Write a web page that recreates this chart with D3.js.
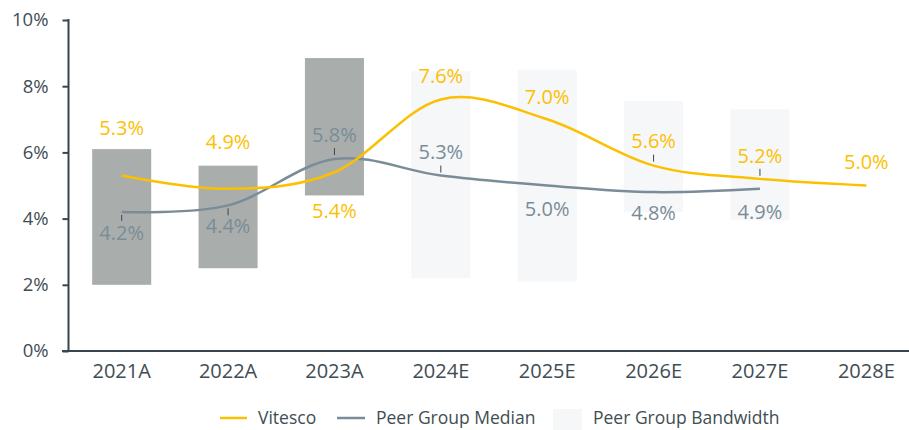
<!DOCTYPE html>
<html lang="en">
<head>
  <meta charset="UTF-8">
  <title>Vitesco vs Peer Group</title>
  <style>
    body { margin: 0; background: #fff; }
    svg { display: block; font-family: "Open Sans", sans-serif; }
  </style>
</head>
<body>
  <svg id="chart"></svg>

  <script src="https://d3js.org/d3.v7.min.js"></script>
  <script>
    // data
    var years = ['2021A', '2022A', '2023A', '2024E', '2025E', '2026E', '2027E', '2028E'];
    var vitesco = [5.3, 4.9, 5.4, 7.6, 7.0, 5.6, 5.2, 5.0];
    var peerMedian = [4.2, 4.4, 5.8, 5.3, 5.0, 4.8, 4.9];
    var bandLow = [2.0, 2.5, 4.7, 2.2, 2.1, 4.2, 3.95];
    var bandHigh = [6.1, 5.6, 8.85, 8.45, 8.5, 7.55, 7.3];
    var yTicks = [0, 2, 4, 6, 8, 10];

    // label placement (px, relative to the point)
    var vitLabelDy = [-48, -47, 39, -23, -22, -25, -23, -24];
    var medLabelDy = [21, 21, -24, -24, 23, 21, 23];
    var vitLeader = [null, null, null, null, null, [-11, -4], [-10, -3], null];
    var medLeader = [[3, 9], [3, 10], [-11, -4], [-10, -3], null, null, null];

    var yellow = '#fcc000';
    var slate = '#7a8c97';
    var axisCol = '#37454c';

    var width = 909, height = 430;
    var svg = d3.select('#chart').attr('width', width).attr('height', height);

    var x = d3.scaleBand()
      .domain(years)
      .range([68.5, 919.5])
      .paddingInner(0.445)
      .paddingOuter(0.2225);
    var cx = function (d) { return x(d) + x.bandwidth() / 2; };

    var y = d3.scaleLinear().domain([0, 10]).range([351, 20]);

    // peer group bandwidth bars
    svg.append('g').selectAll('rect')
      .data(bandLow)
      .enter()
      .append('rect')
      .attr('x', function (d, i) { return x(years[i]); })
      .attr('width', x.bandwidth())
      .attr('y', function (d, i) { return y(bandHigh[i]); })
      .attr('height', function (d, i) { return y(d) - y(bandHigh[i]); })
      .attr('fill', function (d, i) { return years[i].slice(-1) === 'A' ? '#a9aeac' : '#f6f7f9'; });

    // axes
    var axisY = d3.axisLeft(y).tickValues(yTicks).tickSize(6).tickPadding(14)
      .tickFormat(function (d) { return d + '%'; });
    var gy = svg.append('g').attr('transform', 'translate(68.5,0)').call(axisY);
    gy.select('.domain').attr('d', 'M0,19V351').attr('stroke', axisCol).attr('stroke-width', 2);
    gy.selectAll('.tick line').attr('stroke', axisCol).attr('stroke-width', 2);
    gy.selectAll('text').attr('fill', '#3f4d54').style('font-size', '18.5px').style('font-family', '"Open Sans", sans-serif');

    var axisX = d3.axisBottom(x).tickSize(0).tickPadding(13);
    var gx = svg.append('g').attr('transform', 'translate(0,351)').call(axisX);
    gx.select('.domain').attr('d', 'M62,0H909').attr('stroke', axisCol).attr('stroke-width', 2);
    gx.selectAll('text').attr('fill', '#3f4d54').style('font-size', '20px').style('font-family', '"Open Sans", sans-serif');

    // lines
    var line = d3.line()
      .x(function (d, i) { return cx(years[i]); })
      .y(function (d) { return y(d); })
      .curve(d3.curveCatmullRom.alpha(0));

    svg.append('path').datum(peerMedian)
      .attr('d', line).attr('fill', 'none')
      .attr('stroke', slate).attr('stroke-width', 2.5);

    svg.append('path').datum(vitesco)
      .attr('d', line).attr('fill', 'none')
      .attr('stroke', yellow).attr('stroke-width', 2.5);

    // leader lines
    function leaders(vals, offs) {
      svg.append('g').selectAll('line')
        .data(vals)
        .enter()
        .filter(function (d, i) { return offs[i]; })
        .append('line')
        .attr('x1', function (d) { return cx(years[vals.indexOf(d)]); })
        .attr('x2', function (d) { return cx(years[vals.indexOf(d)]); })
        .attr('y1', function (d) { var i = vals.indexOf(d); return y(d) + offs[i][0]; })
        .attr('y2', function (d) { var i = vals.indexOf(d); return y(d) + offs[i][1]; })
        .attr('stroke', '#444').attr('stroke-width', 1);
    }
    leaders(peerMedian, medLeader);
    leaders(vitesco, vitLeader);

    // data labels
    function labels(vals, dys, col) {
      svg.append('g').selectAll('text')
        .data(vals)
        .enter()
        .append('text')
        .attr('x', function (d, i) { return cx(years[i]); })
        .attr('y', function (d, i) { return y(d) + dys[i]; })
        .attr('dy', '0.35em')
        .attr('text-anchor', 'middle')
        .attr('fill', col)
        .style('font-size', '20px')
        .text(function (d) { return d.toFixed(1) + '%'; });
    }
    labels(vitesco, vitLabelDy, yellow);
    labels(peerMedian, medLabelDy, slate);

    // legend
    var lg = svg.append('g').style('font-size', '17.5px').attr('fill', '#3f4d54');
    lg.append('line').attr('x1', 220).attr('x2', 247).attr('y1', 418).attr('y2', 418)
      .attr('stroke', yellow).attr('stroke-width', 2.5);
    lg.append('text').attr('x', 258).attr('y', 424).text('Vitesco');
    lg.append('line').attr('x1', 337).attr('x2', 365).attr('y1', 418).attr('y2', 418)
      .attr('stroke', slate).attr('stroke-width', 2.5);
    lg.append('text').attr('x', 376).attr('y', 424).text('Peer Group Median');
    lg.append('rect').attr('x', 553).attr('y', 409).attr('width', 29).attr('height', 21)
      .attr('fill', '#f6f7f9');
    lg.append('text').attr('x', 593).attr('y', 424).text('Peer Group Bandwidth');
  </script>
</body>
</html>
